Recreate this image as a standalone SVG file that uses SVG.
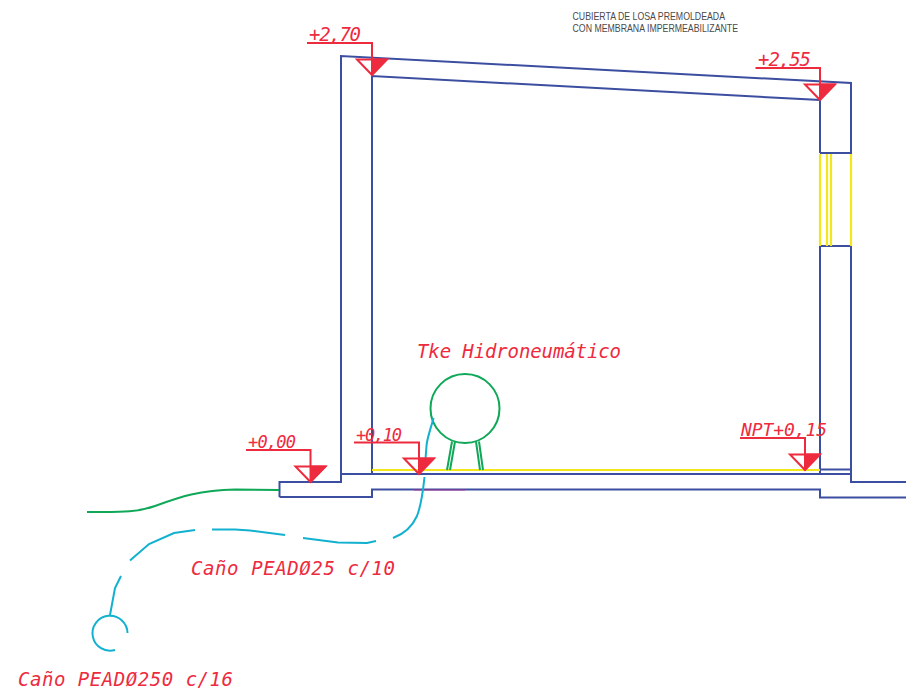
<svg xmlns="http://www.w3.org/2000/svg" width="906" height="691" viewBox="0 0 906 691">
<style>
.w{fill:none;stroke:#3c4ea0;stroke-width:2}
.y{fill:none;stroke:#f2e71a;stroke-width:2.200}
.g{fill:none;stroke:#0fa858;stroke-width:2}
.c{fill:none;stroke:#12b1cf;stroke-width:2}
.r{fill:none;stroke:#ee2a3e;stroke-width:2}
.f{fill:#ee2a3e;stroke:#ee2a3e;stroke-width:1}
.t{font-family:"DejaVu Sans Mono",monospace;font-style:italic;fill:#ee2a3e}
.n{font-family:"Liberation Sans",Arial,sans-serif;font-size:10.500px;fill:#4a4a4a}
</style>
<defs>
<g id="lv"><path class="r" d="M-15 -15.500H15L0 0Z"/><path class="f" d="M0 0V-16H16Z"/></g>
</defs>
<g id="estructura">
<path class="w" d="M279.500 497V482H341V56L851 83V482H906"/>
<path class="w" d="M372 474V76L820 100V153"/>
<path class="w" d="M820 153H851M820 246H851M820 246V475M341 474H851M820 469.500H851"/>
<path class="w" d="M279.500 497H372V489.500H820V497.500H906"/>
<path d="M414 490H465" fill="none" stroke="#b03090" stroke-width="1.500" opacity=".6"/>
</g>
<g id="ventana">
<path class="y" d="M820 154V246M851 154V246M827 154V246M831 154V246"/>
</g>
<g id="piso"><path class="y" d="M372 470H820"/></g>
<g id="tanque">
<circle class="g" cx="465" cy="408.500" r="34.500"/>
<path class="g" d="M447 470L452 441.500M450 470L455 441.500M476 441.500L480 470M479 441.500L483 470"/>
</g>
<g id="conectores">
<path class="g" d="M87 512C120 512 135 513 155 506C180 497 200 490 235 489.500L279 490"/>
<path class="c" d="M433.500 418C431 428 427 438 426.500 446L425.500 459"/>
<path class="c" d="M424.500 477C423 490 422 503 417 516C412 527 404 534 393 538"/>
<path class="c" d="M376 541L367 543L338 542.500L303 538"/>
<path class="c" d="M285 535L250 530.500L235 529.500H212"/>
<path class="c" d="M195 530L174 533L149 544L130 560.500"/>
<path class="c" d="M121 576L115 588L110 615"/>
<path class="c" d="M127.500 633A17.500 17.500 0 1 0 115 650"/>
</g>
<g id="nivel-270"><path class="r" d="M307 43H372V75"/><use href="#lv" x="372" y="75"/><text class="t" x="309" y="41" font-size="19" textLength="52">+2,70</text></g>
<g id="nivel-255"><path class="r" d="M755.500 68H820V100"/><use href="#lv" x="820" y="100"/><text class="t" x="758" y="66" font-size="19" textLength="53">+2,55</text></g>
<g id="nivel-000"><path class="r" d="M246 450H310.500V482"/><use href="#lv" x="310.500" y="482"/><text class="t" x="248" y="448" font-size="17" textLength="48">+0,00</text></g>
<g id="nivel-010"><path class="r" d="M354 442.500H419V474"/><use href="#lv" x="419" y="474"/><text class="t" x="356" y="441" font-size="17" textLength="46">+0,10</text></g>
<g id="nivel-npt"><path class="r" d="M740 438H805V470"/><use href="#lv" x="805" y="470"/><text class="t" x="741" y="436" font-size="18" textLength="86">NPT+0,15</text></g>
<g id="etiquetas">
<text class="t" x="417" y="358" font-size="19" textLength="204">Tke Hidroneumático</text>
<text class="t" x="191" y="575" font-size="19" textLength="204">Caño PEADØ25 c/10</text>
<text class="t" x="18" y="686" font-size="19" textLength="215">Caño PEADØ250 c/16</text>
<text class="n" x="572.500" y="20" textLength="152.500" lengthAdjust="spacingAndGlyphs">CUBIERTA DE LOSA PREMOLDEADA</text>
<text class="n" x="572.500" y="32" textLength="165.500" lengthAdjust="spacingAndGlyphs">CON MEMBRANA IMPERMEABILIZANTE</text>
</g>
</svg>
